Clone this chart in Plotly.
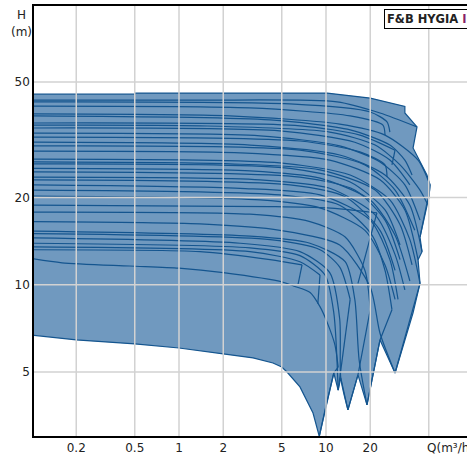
import plotly.graph_objects as go

# ---------------- data (Q in m3/h, H in m) ----------------
x_ticks = [0.2, 0.5, 1, 2, 5, 10, 20]
x_grid = [0.2, 0.5, 1, 2, 5, 10, 20, 50]
y_ticks = [5, 10, 20, 50]

# outer outline of the whole pump range
env_q = [0.1, 0.5, 0.5, 10.2, 20, 34.4, 34.4, 41.6, 39.1, 48.6, 51, 50.2, 48.6, 43.6, 45, 42.3, 43.6,
         39.1, 29.5, 23.3, 19.0, 16.5, 14.1, 12.6, 12.1, 11.3, 9.85, 9.0, 8.16, 6.65, 5.43, 5.0, 4.36,
         3.19, 2.0, 1.0, 0.5, 0.2, 0.1]
env_h = [45.4, 45.4, 45.8, 45.8, 44.0, 41.2, 39.1, 35.0, 29.6, 23.9, 22.1, 20.1, 19.1, 14.6, 13.0, 12.2, 10.1,
         8.0, 4.96, 6.45, 3.85, 4.89, 3.7, 4.77, 4.33, 4.96, 3.7, 3.0, 3.61, 4.44, 5.0, 5.2, 5.37,
         5.59, 5.77, 6.05, 6.25, 6.45, 6.7]

# pump curves (head vs flow)
c02_q = [0.1, 1.39, 11.9, 23.3, 41.6]
c02_h = [43.3, 43.3, 42.7, 39.1, 35.0]
c03_q = [0.1, 5.69, 20, 26, 27.2]
c03_h = [42.7, 42.0, 39.4, 36.4, 33.6]
c04_q = [0.1, 3.04, 14.6, 24.4, 25.2]
c04_h = [41.3, 40.7, 38.2, 35.5, 32.8]
c05_q = [0.1, 2.22, 12.4, 25.2, 42.3, 51]
c05_h = [38.8, 38.2, 35.8, 32.8, 26.9, 22.1]
c06_q = [0.1, 4.16, 14.6, 27.2, 34.4, 38.5]
c06_h = [38.2, 37.0, 34.2, 30.3, 26.9, 23.9]
c07_q = [0.1, 6.65, 17, 29.5]
c07_h = [36.1, 35.3, 32.8, 29.1]
c08_q = [0.1, 1.39, 10.6, 21.6, 31.9, 43.6, 48.7]
c08_h = [35.5, 35.3, 33.6, 30.3, 25.9, 21.2, 19.1]
c09_q = [0.1, 4.86, 15.7, 27.2, 37.2]
c09_h = [34.7, 33.9, 31.0, 26.9, 22.1]
c10_q = [0.1, 3.56, 12.4, 23.3, 34.4, 43.6]
c10_h = [33.3, 32.6, 30.1, 26.5, 22.1, 16.7]
c11_q = [0.1, 6.65, 17, 25.2, 26]
c11_h = [32.3, 31.3, 28.7, 25.9, 23.5]
c12_q = [0.1, 3.04, 12.4, 25.2, 37.2, 45]
c12_h = [31.0, 30.3, 28.0, 23.9, 18.8, 13.0]
c13_q = [0.1, 6.65, 18.4, 29.5, 40.2]
c13_h = [30.1, 29.1, 25.9, 21.2, 15.4]
c14_q = [0.1, 2.6, 10.6, 23.3, 34.4, 42.3]
c14_h = [28.9, 28.5, 26.9, 23.0, 18.1, 12.2]
c15_q = [0.1, 4.86, 14.6, 27.2, 37.2, 43.6]
c15_h = [27.1, 26.3, 23.9, 19.6, 14.3, 10.1]
c16_q = [0.1, 2.22, 9.1, 21.6, 31.9, 38.5]
c16_h = [26.5, 26.1, 24.9, 21.2, 16.1, 11.7]
c17_q = [0.1, 5.69, 14.6, 25.2, 31.9]
c17_h = [26.1, 25.2, 22.6, 18.1, 13.7]
c18_q = [0.1, 3.04, 9.1, 20, 29.5, 37.2]
c18_h = [25.2, 24.7, 23.3, 19.6, 14.8, 10.3]
c19_q = [0.1, 6.65, 15.7, 25.2, 31.9]
c19_h = [24.5, 23.5, 21.2, 16.7, 12.2]
c20_q = [0.1, 3.56, 10.6, 21.6, 29.5, 34.4]
c20_h = [23.5, 23.0, 21.5, 17.4, 12.7, 9.6]
c21_q = [0.1, 5.69, 13.5, 23.3, 29.5]
c21_h = [23.0, 22.1, 20.1, 15.4, 11.2]
c22_q = [0.1, 2.6, 9.1, 20, 27.2, 30.9]
c22_h = [22.1, 21.5, 20.4, 16.7, 12.2, 8.9]
c23_q = [0.1, 4.86, 12.4, 20.6, 25.2, 28.1]
c23_h = [21.2, 20.4, 18.8, 14.8, 11.2, 8.2]
c24_q = [0.1, 3.56, 9.1, 18.4, 25.2, 29.5]
c24_h = [20.2, 19.6, 18.4, 15.4, 11.7, 8.9]
c25_q = [0.1, 4.16, 10.2, 22.2]
c25_h = [18.8, 18.6, 18.4, 17.7]
c26_q = [0.1, 3.04, 7.78, 13.5, 18.4, 20]
c26_h = [17.8, 17.5, 16.5, 14.6, 11.2, 8.2]
c27_q = [0.1, 1.39, 4.86, 12.4, 20, 23.3, 29.5]
c27_h = [16.5, 16.2, 15.4, 13.7, 9.8, 6.8, 4.96]
c28_q = [0.1, 3.04, 7.78, 13.5, 15.7, 16.8, 19.0]
c28_h = [15.3, 14.7, 13.9, 12.0, 8.9, 5.5, 3.85]
c29_q = [0.1, 4.16, 9.1, 12.4, 14.6]
c29_h = [15.0, 14.3, 13.2, 11.5, 8.9]
c30_q = [0.1, 2.6, 6.65, 10.6, 12.4, 12.6, 14.1]
c30_h = [14.5, 13.9, 13.0, 11.0, 7.6, 4.77, 3.7]
c31_q = [0.1, 3.04, 6.65, 9.1]
c31_h = [13.5, 13.0, 12.0, 10.8]
c32_q = [0.1, 1.39, 4.16, 6.87]
c32_h = [13.2, 13.0, 12.2, 11.7]
c33_q = [0.1, 3.04, 6.65, 9.85, 11.3, 12.1]
c33_h = [13.9, 13.4, 12.6, 10.8, 8.0, 4.33]
c34_q = [0.1, 0.16, 0.46, 1.0, 2.0, 5.1, 6.0, 7.8, 9.1, 10.2, 11.5, 12.1]
c34_h = [12.3, 11.9, 11.6, 11.4, 11.0, 10.2, 9.9, 9.4, 8.4, 7.4, 6.2, 5.2]

# straight end lines joining curve ends
e1_q = [9.0, 9.85, 11.3, 12.1]
e1_h = [3.0, 3.7, 4.96, 5.2]
e2_q = [12.1, 14.6]
e2_h = [4.33, 8.9]
e3_q = [14.1, 16.5, 20]
e3_h = [3.7, 4.89, 8.2]
e4_q = [19.0, 23.3, 28.1]
e4_h = [3.85, 6.45, 8.2]
e5_q = [29.5, 43.6]
e5_h = [4.96, 10.1]
e6_q = [51, 50.2, 43.6]
e6_h = [22.1, 20.1, 14.6]
e7_q = [29.5, 28.1]
e7_h = [29.1, 25.9]
e8_q = [22.2, 16.5]
e8_h = [17.7, 10.1]
e9_q = [9.1, 8.8]
e9_h = [10.8, 8.6]
e10_q = [6.87, 6.45]
e10_h = [11.7, 10.0]

curves = [
    (c02_q, c02_h), (c03_q, c03_h), (c04_q, c04_h), (c05_q, c05_h), (c06_q, c06_h),
    (c07_q, c07_h), (c08_q, c08_h), (c09_q, c09_h), (c10_q, c10_h), (c11_q, c11_h),
    (c12_q, c12_h), (c13_q, c13_h), (c14_q, c14_h), (c15_q, c15_h), (c16_q, c16_h),
    (c17_q, c17_h), (c18_q, c18_h), (c19_q, c19_h), (c20_q, c20_h), (c21_q, c21_h),
    (c22_q, c22_h), (c23_q, c23_h), (c24_q, c24_h), (c25_q, c25_h), (c26_q, c26_h),
    (c27_q, c27_h), (c28_q, c28_h), (c29_q, c29_h), (c30_q, c30_h), (c31_q, c31_h),
    (c32_q, c32_h), (c33_q, c33_h), (c34_q, c34_h),
]
end_lines = [
    (e1_q, e1_h), (e2_q, e2_h), (e3_q, e3_h), (e4_q, e4_h), (e5_q, e5_h),
    (e6_q, e6_h), (e7_q, e7_h), (e8_q, e8_h), (e9_q, e9_h), (e10_q, e10_h),
]

# ---------------- styling ----------------
FILL = "#7099BF"
LINE = "#14558F"
GRID = "#D2D2D2"
W, H = 467, 455
ML, MR, MT, MB = 34, 0, 6, 19
x_range = [-0.9864, 1.9592]
y_range = [0.4783, 1.961]

fig = go.Figure()
fig.add_trace(go.Scatter(x=env_q, y=env_h, mode="lines", fill="toself", fillcolor=FILL,
                         line=dict(color=LINE, width=1.2), hoverinfo="skip"))
for q, h in curves:
    fig.add_trace(go.Scatter(x=q, y=h, mode="lines",
                             line=dict(color=LINE, width=1.2, shape="spline", smoothing=0.7),
                             hoverinfo="skip"))
for q, h in end_lines:
    fig.add_trace(go.Scatter(x=q, y=h, mode="lines", line=dict(color=LINE, width=1.2),
                             hoverinfo="skip"))

# grid lines drawn above the filled range
gx, gy = [], []
for v in x_grid:
    gx += [v, v, None]
    gy += [1, 200, None]
for v in y_ticks:
    gx += [0.01, 1000, None]
    gy += [v, v, None]
fig.add_trace(go.Scatter(x=gx, y=gy, mode="lines", line=dict(color=GRID, width=1.5),
                         hoverinfo="skip"))

FONT_FAMILY = "DejaVu Sans, Verdana, sans-serif"
font = dict(family=FONT_FAMILY, size=12, color="#222")
pw = W - ML - MR
ph = H - MT - MB

def px_x(p):
    return (p - ML) / pw

def px_y(p):
    return 1 - (p - MT) / ph

fig.update_layout(
    width=W, height=H, margin=dict(l=ML, r=MR, t=MT, b=MB, autoexpand=False),
    paper_bgcolor="white", plot_bgcolor="white", showlegend=False,
    xaxis=dict(type="log", range=x_range, tickvals=x_ticks, ticktext=[str(v) for v in x_ticks],
               showgrid=False, zeroline=False, showline=True, linecolor="black", linewidth=1.5,
               mirror=True, ticks="", tickfont=font, automargin=False),
    yaxis=dict(type="log", range=y_range, tickvals=y_ticks, ticktext=[str(v) for v in y_ticks],
               showgrid=False, zeroline=False, showline=True, linecolor="black", linewidth=1.5,
               ticks="", tickfont=font, automargin=False),
    annotations=[
        dict(text="H", xref="paper", yref="paper", x=px_x(21), y=px_y(15), showarrow=False,
             xanchor="center", yanchor="middle", font=font),
        dict(text="(m)", xref="paper", yref="paper", x=px_x(21), y=px_y(32), showarrow=False,
             xanchor="center", yanchor="middle", font=font),
        dict(text="Q(m³/h)", xref="paper", yref="paper", x=px_x(425), y=px_y(448),
             showarrow=False, xanchor="left", yanchor="middle", font=font),
        dict(text="<b>F&B HYGIA <span style='color:#8a1f6a'>II 50-80</span></b>", xref="paper",
             yref="paper", x=px_x(384), y=px_y(9),
             showarrow=False, xanchor="left", yanchor="top",
             font=dict(family=FONT_FAMILY, size=11.5, color="#222"),
             bgcolor="white", bordercolor="black", borderwidth=1, borderpad=2),
    ],
)

fig.write_html("out.html", config={"responsive": False, "displayModeBar": False},
               post_script="document.body.style.margin='0';document.body.style.overflow='hidden';")
